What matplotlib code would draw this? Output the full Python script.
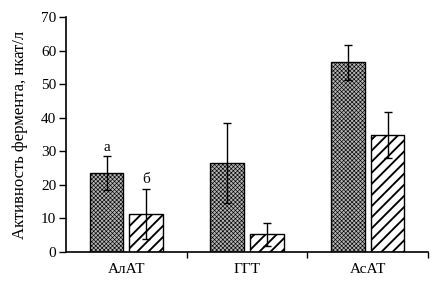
import numpy as np
import matplotlib.pyplot as plt

plt.rcParams["font.family"] = ["Liberation Serif", "DejaVu Serif"]
plt.rcParams["hatch.linewidth"] = 1.35

categories = ["АлАТ", "ГГТ", "АсАТ"]
dark_vals = [23.5, 26.5, 56.5]
dark_err = [5.0, 11.8, 5.3]
hatch_vals = [11.3, 5.2, 34.8]
hatch_err = [7.5, 3.3, 6.8]
notes = ["а", "б"]

x = np.arange(len(categories))
w = 0.28
off = 0.165

fig = plt.figure(figsize=(4.38, 2.84), dpi=100)
ax = fig.add_axes([0.151, 0.113, 0.826, 0.827])

dark = ax.bar(x - off, dark_vals, w, color="#b4b4b4", edgecolor="black", linewidth=1.0,
              hatch="xxxxxxxx", zorder=2)
for p in dark:
    if hasattr(p, "set_hatch_linewidth"):
        p.set_hatch_linewidth(0.45)
    else:
        p._hatch_linewidth = 0.45
ax.bar(x + off, hatch_vals, w, color="white", edgecolor="black", linewidth=1.0,
       hatch="///", zorder=2)
ax.errorbar(x - off, dark_vals, yerr=dark_err, fmt="none", ecolor="black",
            elinewidth=1.0, capsize=2.7, capthick=1.0, zorder=3)
ax.errorbar(x + off, hatch_vals, yerr=hatch_err, fmt="none", ecolor="black",
            elinewidth=1.0, capsize=2.7, capthick=1.0, zorder=3)

ax.text(x[0] - off, dark_vals[0] + dark_err[0] + 0.8, notes[0], ha="center",
        va="bottom", fontsize=11)
ax.text(x[0] + off, hatch_vals[0] + hatch_err[0] + 0.8, notes[1], ha="center",
        va="bottom", fontsize=11)

ax.set_xlim(-0.5, 2.5)
ax.set_ylim(0, 70)
ax.set_yticks(range(0, 71, 10))
ax.set_xticks([0.5, 1.5, 2.5])
ax.set_xticklabels([])
ax.set_xticks(x, minor=True)
ax.set_xticklabels(categories, minor=True)
ax.tick_params(axis="x", which="minor", length=0, labelsize=11, pad=8)
ax.tick_params(axis="x", which="major", direction="out", length=4, width=1.0)
ax.tick_params(axis="y", direction="out", length=5, width=1.0, labelsize=11, pad=2)

for s in ["top", "right"]:
    ax.spines[s].set_visible(False)
for s in ["left", "bottom"]:
    ax.spines[s].set_linewidth(1.2)

ax.set_ylabel("Активность фермента, нкат/л", fontsize=12)
ax.yaxis.set_label_coords(-0.105, 0.5)

fig.savefig("out.png", dpi=100)
